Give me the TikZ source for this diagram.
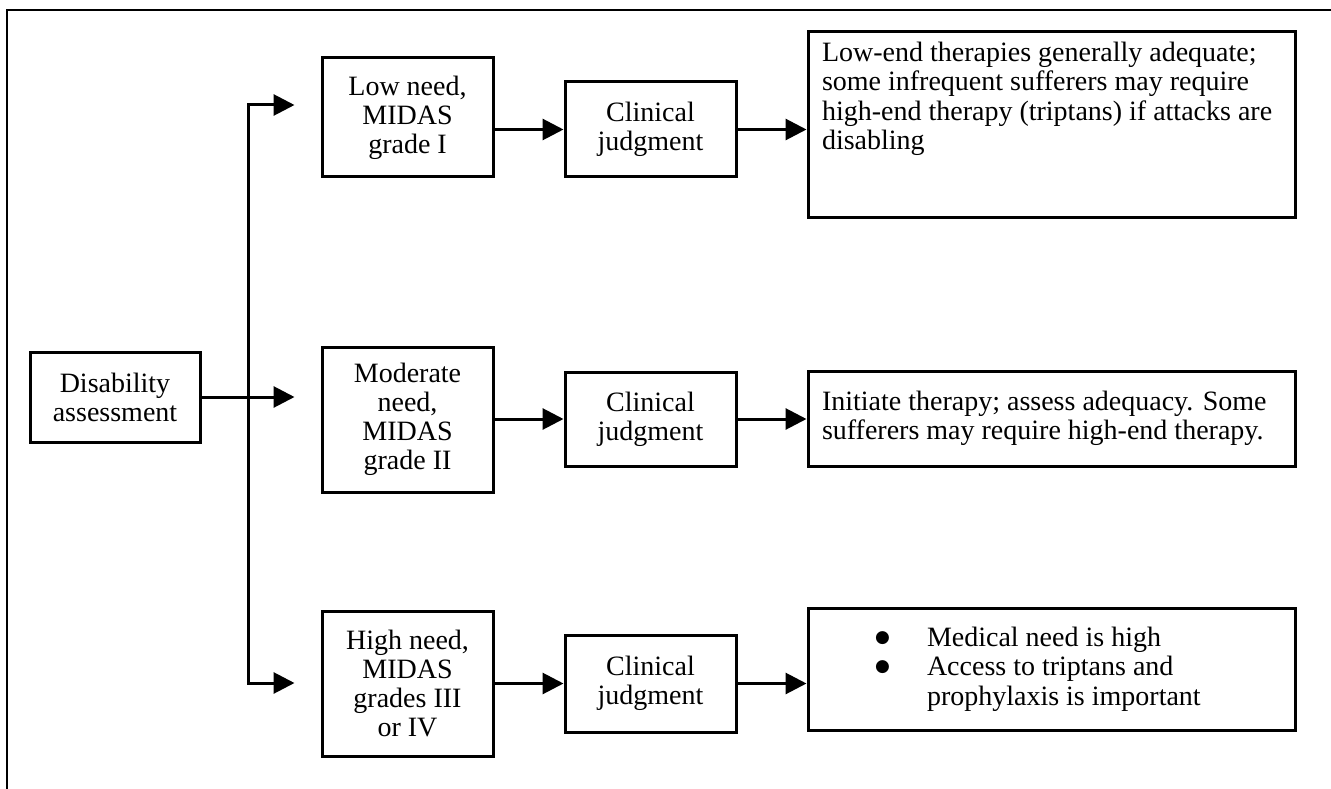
\documentclass[tikz,border=0pt]{standalone}
\usepackage{fontspec}
\setmainfont{Liberation Serif}
\newfontfamily\symfont{DejaVu Sans}
\usetikzlibrary{arrows.meta}
\newcommand{\bigbul}{\raisebox{4pt}{\symfont\fontsize{17}{20}\selectfont ●}}
\begin{document}
\begin{tikzpicture}[x=1pt,y=-1pt,
  every node/.style={font=\fontsize{28}{29}\selectfont},
  boxnode/.style={draw, line width=3pt, align=center, inner sep=0pt},
  outnode/.style={draw, line width=3pt, inner sep=0pt, minimum width=487pt},
  arr/.style={line width=3pt, -{Triangle[length=21pt,width=21pt]}},
  plainline/.style={line width=3pt, line cap=rect}]
\useasboundingbox (0,0) rectangle (1331,789);
\draw[line width=2pt] (7,789) -- (7,10) -- (1331,10);

\node[boxnode, minimum width=170pt, minimum height=90pt] (dis) at (115,397) {Disability\\assessment};
\node[boxnode, minimum width=171pt, minimum height=119pt] (low) at (407.5,117.5) {Low need,\\MIDAS\\grade I};
\node[boxnode, minimum width=171pt, minimum height=145pt] (mod) at (407.5,419.5) {Moderate\\need,\\MIDAS\\grade II};
\node[boxnode, minimum width=171pt, minimum height=145pt] (high) at (407.5,683.5) {High need,\\MIDAS\\grades III\\or IV};
\node[boxnode, minimum width=171pt, minimum height=95pt] (c1) at (650.5,129.5) {Clinical\\judgment};
\node[boxnode, minimum width=171pt, minimum height=94pt] (c2) at (650.5,419) {Clinical\\judgment};
\node[boxnode, minimum width=171pt, minimum height=97pt] (c3) at (650.5,683.5) {Clinical\\judgment};

\node[outnode, minimum height=185pt] (out1) at (1051.5,124.5)
  {\parbox[c][165pt][t]{459pt}{\fontsize{28}{29.5}\selectfont\raggedright
   Low-end therapies generally adequate;\\
   some infrequent sufferers may require\\
   high-end therapy (triptans) if attacks are\\
   disabling}};
\node[outnode, minimum height=95pt] (out2) at (1051.5,418.5)
  {\parbox{459pt}{\fontsize{28}{29.5}\selectfont\raggedright
   Initiate therapy; assess adequacy. Some\\
   sufferers may require high-end therapy.}};
\node[outnode, minimum height=122pt] (out3) at (1051.5,669)
  {\parbox{459pt}{\fontsize{28}{29.5}\selectfont\raggedright
   \hspace*{53pt}\makebox[52pt][l]{\bigbul}Medical need is high\\
   \hspace*{53pt}\makebox[52pt][l]{\bigbul}Access to triptans and\\
   \hspace*{105pt}prophylaxis is important}};

\coordinate (jt) at (248,105);
\coordinate (jb) at (248,683);
\draw[plainline] (jt) -- (jb);
\draw[arr, shorten >=26pt] (jt) -- (jt -| low.west);
\draw[arr, shorten >=26pt] (dis.east) -- (dis.east -| mod.west);
\draw[arr, shorten >=26pt] (jb) -- (jb -| high.west);

\draw[arr] (low.east |- c1.west) -- (c1.west);
\draw[arr] (mod.east |- c2.west) -- (c2.west);
\draw[arr] (high.east |- c3.west) -- (c3.west);

\draw[arr] (c1.east) -- (c1.east -| out1.west);
\draw[arr] (c2.east) -- (c2.east -| out2.west);
\draw[arr] (c3.east) -- (c3.east -| out3.west);
\end{tikzpicture}
\end{document}
